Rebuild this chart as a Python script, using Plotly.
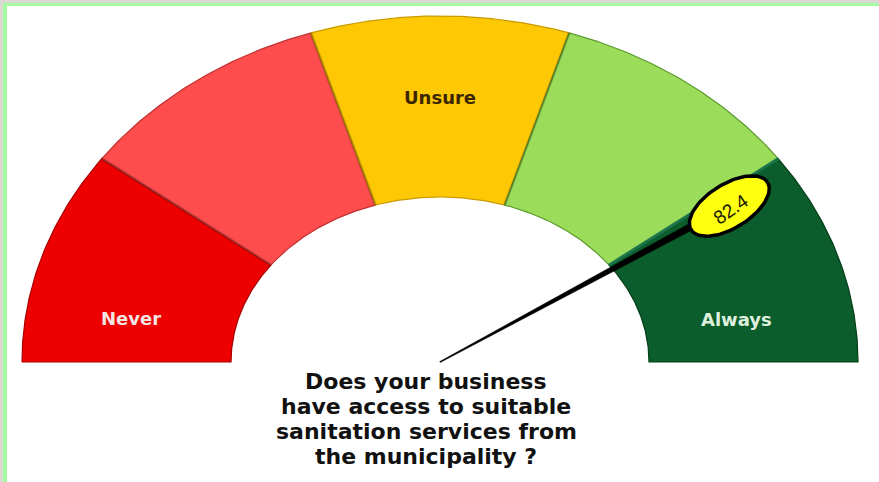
import numpy as np
import plotly.graph_objects as go

# ---------------- data ----------------
segment_edges = [0, 20, 40, 60, 80, 100]
segment_names = ["Never", "Rarely", "Unsure", "Often", "Always"]
segment_labels = ["Never", "", "Unsure", "", "Always"]
needle_value = 82.4
question_lines = ["Does your business", "have access to suitable",
                  "sanitation services from", "the municipality ?"]

# ---------------- style / geometry ----------------
W, H = 879, 482
CX, CY = 440, 362
RX_OUT, RY_OUT = 418, 346
RX_IN, RY_IN = 209, 165
NEEDLE_RX, NEEDLE_RY = 340, 297
seg_colors = ["#ee0000", "#ff4d4d", "#ffc805", "#9bdc5a", "#0b5d2b"]
seg_edge = ["#a80000", "#c03030", "#c89a00", "#5c9a30", "#043d18"]
label_colors = ["#f4e4e4", "#ffffff", "#3b2600", "#ffffff", "#dff0df"]
label_pos = {0: (5.5, 0.5), 2: (50, 0.55), 4: (94.5, 0.44)}  # (value, ring fraction)
FONT = "DejaVu Sans, Liberation Sans, Arial"


def ang(v):
    return np.pi * (1 - v / 100.0)


def pt(v, t):
    a = ang(v)
    rx = RX_IN + t * (RX_OUT - RX_IN)
    ry = RY_IN + t * (RY_OUT - RY_IN)
    return CX + rx * np.cos(a), CY - ry * np.sin(a)


fig = go.Figure()

for i in range(len(segment_names)):
    v0, v1 = segment_edges[i], segment_edges[i + 1]
    vs = np.linspace(v0, v1, 80)
    ox, oy = zip(*[pt(v, 1) for v in vs])
    ix, iy = zip(*[pt(v, 0) for v in vs[::-1]])
    xs = list(ox) + list(ix) + [ox[0]]
    ys = list(oy) + list(iy) + [oy[0]]
    fig.add_trace(go.Scatter(x=xs, y=ys, mode="lines", fill="toself",
                             fillcolor=seg_colors[i],
                             line=dict(color=seg_edge[i], width=1.2),
                             hoverinfo="skip", showlegend=False,
                             name=segment_names[i]))

# boundary shading lines
for i, v in enumerate(segment_edges[1:-1]):
    x0, y0 = pt(v, 0)
    x1, y1 = pt(v, 1)
    col = "rgba(30,120,80,0.9)" if v == 80 else "rgba(0,0,0,0.18)"
    fig.add_trace(go.Scatter(x=[x0, x1], y=[y0, y1], mode="lines",
                             line=dict(color=col, width=3),
                             hoverinfo="skip", showlegend=False))

# badge centre along the needle direction
a_n = ang(needle_value)
lx, ly = CX + NEEDLE_RX * np.cos(a_n), CY - NEEDLE_RY * np.sin(a_n)
dx, dy = lx - CX, ly - CY
L = np.hypot(dx, dy)
ux, uy = dx / L, dy / L
nx, ny = -uy, ux
tipx, tipy = lx - ux * 40, ly - uy * 40
w0, w1 = 0.5, 3.5
nxs = [CX + nx * w0, tipx + nx * w1, tipx - nx * w1, CX - nx * w0, CX + nx * w0]
nys = [CY + ny * w0, tipy + ny * w1, tipy - ny * w1, CY - ny * w0, CY + ny * w0]
fig.add_trace(go.Scatter(x=nxs, y=nys, mode="lines", fill="toself",
                         fillcolor="#000000", line=dict(color="#000000", width=0.5),
                         hoverinfo="skip", showlegend=False))

# value badge (ellipse)
phi = np.arctan2(dy, dx) - np.radians(3.5)
t = np.linspace(0, 2 * np.pi, 100)
a_, b_ = 45, 22
ex = lx + a_ * np.cos(t) * np.cos(phi) - b_ * np.sin(t) * np.sin(phi)
ey = ly + a_ * np.cos(t) * np.sin(phi) + b_ * np.sin(t) * np.cos(phi)
fig.add_trace(go.Scatter(x=ex, y=ey, mode="lines", fill="toself",
                         fillcolor="#ffff10", line=dict(color="#000000", width=3.5),
                         hoverinfo="skip", showlegend=False))

annotations = [dict(x=lx + 1, y=ly + 3, text=f"{needle_value}", showarrow=False,
                    textangle=np.degrees(phi) - 3,
                    font=dict(family="Liberation Sans, Arial", size=19, color="#1a1a00"))]

for i, lab in enumerate(segment_labels):
    if not lab:
        continue
    v, f = label_pos[i]
    x, y = pt(v, f)
    annotations.append(dict(x=x, y=y, text=f"<b>{lab}</b>", showarrow=False,
                            font=dict(family=FONT, size=18,
                                      color=label_colors[i])))

for k, line in enumerate(question_lines):
    annotations.append(dict(x=426, y=381 + 25.2 * k, text=f"<b>{line}</b>",
                            showarrow=False,
                            font=dict(family=FONT, size=22,
                                      color="#111111")))

shapes = [
    dict(type="rect", x0=0, x1=W, y0=0, y1=3, fillcolor="#dcd8d2", line_width=0, layer="above"),
    dict(type="rect", x0=0, x1=3, y0=0, y1=H, fillcolor="#dcd8d2", line_width=0, layer="above"),
    dict(type="rect", x0=3, x1=W, y0=3, y1=6, fillcolor="#a2fba2", line_width=0, layer="above"),
    dict(type="rect", x0=3, x1=7, y0=3, y1=H, fillcolor="#a2fba2", line_width=0, layer="above"),
]

fig.update_layout(
    width=W, height=H, margin=dict(l=0, r=0, t=0, b=0),
    paper_bgcolor="white", plot_bgcolor="white",
    xaxis=dict(range=[0, W], visible=False, fixedrange=True),
    yaxis=dict(range=[H, 0], visible=False, fixedrange=True),
    annotations=annotations, shapes=shapes, showlegend=False,
)

fig.write_html("out.html", config={"displayModeBar": False})
